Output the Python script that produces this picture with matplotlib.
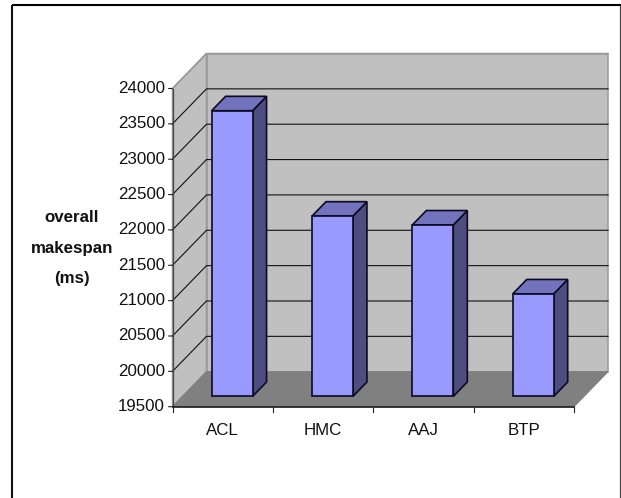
import matplotlib
matplotlib.use("Agg")
import matplotlib.pyplot as plt
from matplotlib.patches import Polygon
from matplotlib.lines import Line2D

categories = ["ACL", "HMC", "AAJ", "BTP"]
values = [23540, 22050, 21925, 20950]
y_ticks = [19500, 20000, 20500, 21000, 21500, 22000, 22500, 23000, 23500, 24000]
ylabel_lines = ["overall", "makespan", "(ms)"]

W, H = 621, 498
plt.rcParams["font.family"] = ["Liberation Sans", "DejaVu Sans"]
FS = 12.2

fig = plt.figure(figsize=(W / 100, H / 100), dpi=100, facecolor="white")

# Figure frame
def fig_line(xs, ys, lw, color):
    fig.add_artist(Line2D([x / W for x in xs], [1 - y / H for y in ys],
                          transform=fig.transFigure, lw=lw, color=color,
                          solid_capstyle="butt"))
fig_line([11.5, 621], [5.5, 5.5], 1.5, "black")
fig_line([12, 12], [5, 498], 1.5, "#111111")
fig_line([620, 620], [5, 498], 0.9, "#444444")

# Front plane of the 3-D box is the axes rectangle
L, R, B, T = 172.5, 574.0, 406.7, 88.5
ax = fig.add_axes([L / W, 1 - B / H, (R - L) / W, (B - T) / H])
ax.set_xlim(0, len(categories))
ax.set_ylim(y_ticks[0], y_ticks[-1])
ax.axis("off")

px_x = len(categories) / (R - L)
px_y = (y_ticks[-1] - y_ticks[0]) / (B - T)
DEPTH_X = 34 * px_x
DEPTH_Y = 35 * px_y


def proj(x, v, d):
    return (x + d * DEPTH_X, v + d * DEPTH_Y)


def poly(pts, face, edge, lw, z):
    ax.add_patch(Polygon(pts, closed=True, facecolor=face, edgecolor=edge,
                         linewidth=lw, joinstyle="miter", clip_on=False, zorder=z))


n = len(categories)
v0, v1 = y_ticks[0], y_ticks[-1]
wall = "#c0c0c0"
# Back wall, side wall, floor
poly([proj(0, v0, 1), proj(n, v0, 1), proj(n, v1, 1), proj(0, v1, 1)], wall, "#999999", 1.1, 1)
poly([proj(0, v0, 0), proj(0, v0, 1), proj(0, v1, 1), proj(0, v1, 0)], wall, "#999999", 1.1, 1)
poly([proj(0, v0, 0), proj(n, v0, 0), proj(n, v0, 1), proj(0, v0, 1)], "#808080", "#808080", 0.8, 2)

# Gridlines
for t in y_ticks[1:-1]:
    ax.plot(*zip(proj(0, t, 0), proj(0, t, 1), proj(n, t, 1)), color="#111111", lw=0.8,
            clip_on=False, zorder=3, solid_joinstyle="miter")
ax.plot(*zip(proj(0, v1, 0), proj(0, v1, 1), proj(n, v1, 1)), color="#9a9a9a", lw=1.1,
        clip_on=False, zorder=3, solid_joinstyle="miter")

# Axis lines and ticks
ax.plot([0, 0], [v0, v1], color="#444444", lw=0.9, clip_on=False, zorder=4)
ax.plot([0, n], [v0, v0], color="#111111", lw=1.1, clip_on=False, zorder=4)
for t in y_ticks:
    ax.annotate("", xy=(0, t), xytext=(-4, 0), textcoords="offset pixels",
                arrowprops=dict(arrowstyle="-", lw=0.8, color="#222222", shrinkA=0, shrinkB=0))
    ax.annotate(str(t), xy=(0, t), xytext=(-5.4, 0), textcoords="offset points",
                ha="right", va="center", fontsize=FS, color="#111111")
for i in range(n + 1):
    ax.plot([i, i], [v0, v0 - 5 * px_y], color="#222222", lw=0.8, clip_on=False, zorder=4)

# Bars
D0, D1 = 10 / 34, 24 / 34
X0, BW = 0.29, 0.408
face, side, top = "#9999ff", "#4d4d80", "#7373bd"
for i, (c, v) in enumerate(zip(categories, values)):
    a, b = i + X0, i + X0 + BW
    poly([proj(b, v0, D0), proj(b, v0, D1), proj(b, v, D1), proj(b, v, D0)], side, "#0a0a20", 1.2, 5)
    poly([proj(a, v, D0), proj(b, v, D0), proj(b, v, D1), proj(a, v, D1)], top, "#0a0a20", 1.2, 5)
    poly([proj(a, v0, D0), proj(b, v0, D0), proj(b, v, D0), proj(a, v, D0)], face, "#0a0a20", 1.2, 6)
    ax.annotate(c, xy=(i + 0.5, v0), xytext=(0, -17), textcoords="offset points",
                ha="center", va="center", fontsize=FS, color="#111111")

# Multi-line axis title
for text, yp in zip(ylabel_lines, [218, 248, 278]):
    fig.text(72 / W, 1 - yp / H, text, ha="center", va="center", fontsize=FS,
             fontweight="bold", color="#111111")

fig.savefig("out.png", dpi=100, facecolor="white")
